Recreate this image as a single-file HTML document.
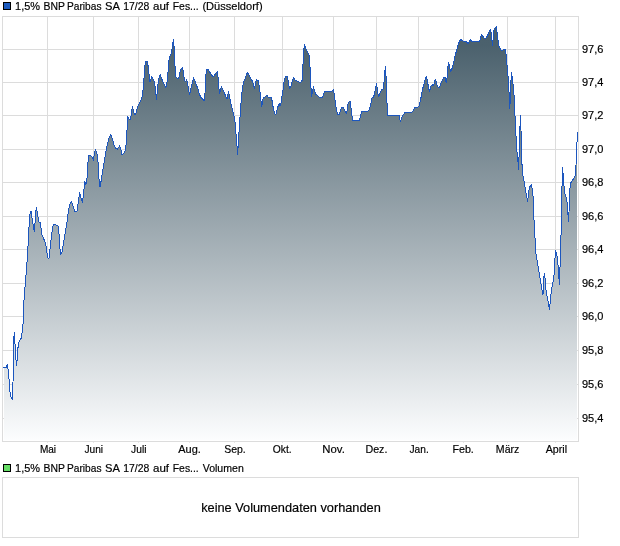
<!DOCTYPE html>
<html><head><meta charset="utf-8"><title>Chart</title>
<style>
html,body{margin:0;padding:0;background:#fff}
svg{display:block}
text{font-family:"Liberation Sans",Arial,sans-serif;fill:#000;stroke:#000;stroke-width:0.18px}
</style></head>
<body>
<svg width="620" height="546" viewBox="0 0 620 546">
<defs><linearGradient id="g" gradientUnits="userSpaceOnUse" x1="0" y1="17" x2="0" y2="440"><stop offset="0.0000" stop-color="rgb(72,95,107)"/><stop offset="0.0662" stop-color="rgb(75,97,109)"/><stop offset="1.0000" stop-color="rgb(252,253,254)"/></linearGradient>
<clipPath id="c"><rect x="4" y="17" width="573" height="423"/></clipPath></defs>
<rect width="620" height="546" fill="#fff"/>
<g stroke="#dcdcdc" stroke-width="1" shape-rendering="crispEdges">
<line x1="47.5" y1="17" x2="47.5" y2="440"/>
<line x1="93.5" y1="17" x2="93.5" y2="440"/>
<line x1="138.5" y1="17" x2="138.5" y2="440"/>
<line x1="189.5" y1="17" x2="189.5" y2="440"/>
<line x1="234.5" y1="17" x2="234.5" y2="440"/>
<line x1="282.5" y1="17" x2="282.5" y2="440"/>
<line x1="333.5" y1="17" x2="333.5" y2="440"/>
<line x1="376.5" y1="17" x2="376.5" y2="440"/>
<line x1="418.5" y1="17" x2="418.5" y2="440"/>
<line x1="463.5" y1="17" x2="463.5" y2="440"/>
<line x1="507.5" y1="17" x2="507.5" y2="440"/>
<line x1="555.5" y1="17" x2="555.5" y2="440"/>
<line x1="3" y1="49.5" x2="578" y2="49.5"/>
<line x1="3" y1="82.5" x2="578" y2="82.5"/>
<line x1="3" y1="115.5" x2="578" y2="115.5"/>
<line x1="3" y1="149.5" x2="578" y2="149.5"/>
<line x1="3" y1="182.5" x2="578" y2="182.5"/>
<line x1="3" y1="216.5" x2="578" y2="216.5"/>
<line x1="3" y1="249.5" x2="578" y2="249.5"/>
<line x1="3" y1="283.5" x2="578" y2="283.5"/>
<line x1="3" y1="316.5" x2="578" y2="316.5"/>
<line x1="3" y1="350.5" x2="578" y2="350.5"/>
<line x1="3" y1="384.5" x2="578" y2="384.5"/>
<line x1="3" y1="418.5" x2="578" y2="418.5"/>
</g>
<path d="M3.0,367.4 L6.5,367.4 L7.2,364.5 L8.5,372.0 L10.0,392.0 L11.0,397.0 L12.6,399.6 L13.0,383.0 L13.4,350.0 L14.2,332.5 L15.0,344.0 L16.4,365.6 L17.2,359.0 L18.0,347.6 L19.0,342.0 L21.0,338.6 L22.4,331.0 L23.4,320.0 L23.7,304.6 L24.5,294.0 L25.5,281.0 L26.5,269.0 L27.5,256.0 L28.5,236.0 L29.5,218.0 L30.2,212.0 L31.0,211.0 L32.0,218.0 L33.4,226.0 L34.4,232.0 L35.6,214.0 L36.4,207.2 L37.6,215.0 L39.0,222.0 L40.4,223.0 L42.0,235.0 L43.4,238.0 L45.0,242.0 L46.4,248.0 L47.6,258.0 L49.2,258.0 L50.4,245.0 L52.0,232.0 L53.0,226.0 L54.0,224.4 L56.0,225.0 L58.0,226.0 L59.0,234.0 L60.4,254.4 L62.0,252.0 L63.4,244.0 L64.6,236.0 L66.0,228.0 L67.4,220.0 L68.4,211.0 L69.6,205.0 L71.4,201.4 L73.0,206.0 L75.0,212.0 L77.0,211.0 L78.0,204.0 L79.6,192.6 L81.0,198.0 L82.6,202.0 L83.9,190.0 L84.7,181.0 L85.9,185.0 L86.9,180.0 L87.7,164.0 L88.9,155.0 L90.5,155.0 L91.9,157.0 L93.5,160.0 L94.5,152.0 L95.5,149.6 L97.1,154.0 L98.1,163.0 L99.1,180.0 L100.1,187.0 L101.1,181.0 L102.9,170.0 L104.5,160.0 L105.9,152.0 L107.5,144.0 L109.1,138.0 L110.9,134.6 L112.5,139.0 L114.1,145.0 L115.5,148.0 L117.5,149.0 L119.5,146.0 L120.7,149.0 L122.1,155.0 L124.1,153.0 L125.5,150.0 L126.5,140.0 L127.3,124.0 L127.4,116.0 L129.0,119.0 L130.4,120.0 L131.4,113.0 L132.4,106.4 L133.4,110.0 L134.6,115.0 L136.0,113.0 L137.0,109.0 L138.4,105.0 L140.0,102.0 L141.6,99.0 L142.6,94.0 L143.6,84.0 L144.4,72.0 L145.4,61.4 L147.4,61.4 L148.4,68.0 L149.4,78.0 L150.0,82.0 L151.6,76.6 L153.0,79.0 L154.4,82.0 L155.6,90.0 L156.4,99.6 L157.4,90.0 L158.4,80.0 L160.2,74.6 L161.4,78.0 L163.0,82.0 L164.4,85.0 L165.8,87.6 L167.0,82.0 L168.0,72.0 L169.0,60.0 L170.0,56.0 L171.4,53.0 L172.4,47.0 L173.4,39.4 L174.4,50.0 L175.0,66.0 L176.0,77.0 L178.0,79.0 L179.4,76.0 L180.4,70.0 L182.4,67.4 L183.4,72.0 L184.4,80.0 L185.6,82.0 L186.4,79.6 L187.6,83.0 L188.6,90.0 L189.6,94.6 L191.0,88.0 L192.4,82.0 L193.6,77.6 L195.0,81.0 L196.4,85.0 L198.0,89.0 L199.4,94.0 L200.6,97.0 L202.4,99.0 L204.4,101.0 L205.0,93.0 L205.6,77.0 L206.6,69.4 L208.4,69.4 L209.6,72.0 L211.0,74.0 L213.0,77.0 L214.6,75.0 L216.0,73.0 L217.4,71.4 L218.4,80.0 L219.4,94.0 L220.4,90.0 L221.6,86.6 L222.6,89.0 L224.0,92.0 L225.6,96.0 L227.0,99.0 L228.4,91.6 L229.4,96.0 L231.0,104.0 L232.6,110.0 L234.0,116.0 L235.0,122.0 L236.0,134.0 L237.0,146.0 L237.6,155.0 L238.4,142.0 L239.4,126.0 L240.4,112.0 L241.4,98.0 L242.4,88.0 L243.6,82.0 L245.0,79.0 L246.0,76.0 L247.4,72.6 L249.0,75.0 L250.4,78.0 L252.4,81.0 L253.6,85.0 L254.4,89.0 L255.6,83.0 L256.4,79.6 L258.4,81.0 L259.4,88.0 L260.4,95.0 L261.6,107.0 L262.4,103.0 L263.4,97.0 L265.4,97.0 L267.0,95.0 L268.6,98.0 L270.0,97.6 L271.6,98.0 L272.6,104.0 L273.6,110.0 L274.8,114.0 L276.2,114.0 L277.4,108.0 L278.6,105.0 L279.6,104.0 L280.0,106.0 L281.0,103.0 L282.0,96.0 L283.0,90.0 L284.0,82.0 L285.4,76.4 L287.4,76.4 L288.4,82.0 L289.6,89.0 L291.0,86.0 L292.0,82.0 L293.4,77.6 L295.0,80.0 L297.0,81.0 L299.0,82.0 L301.0,82.0 L302.4,80.0 L302.6,72.0 L303.5,54.0 L304.4,44.0 L305.5,48.0 L306.5,50.0 L307.5,52.0 L308.5,54.0 L309.5,56.0 L310.0,67.0 L310.4,78.0 L311.0,88.0 L311.6,97.0 L312.4,92.0 L313.4,86.6 L314.4,90.0 L315.6,94.0 L317.0,95.0 L318.4,96.6 L320.0,97.6 L322.4,97.6 L323.6,94.0 L324.6,91.6 L327.0,91.6 L329.0,91.6 L331.6,91.6 L333.4,89.6 L334.4,95.0 L335.4,103.0 L336.6,110.0 L337.8,115.0 L339.4,114.0 L340.4,110.0 L341.6,107.4 L343.4,107.4 L344.6,110.0 L346.0,113.0 L346.8,114.0 L347.4,106.0 L348.4,103.0 L349.6,101.4 L350.4,101.6 L351.0,108.0 L352.0,116.0 L352.6,120.4 L359.4,120.4 L360.4,117.0 L361.6,111.2 L368.0,111.2 L369.6,109.0 L370.6,105.0 L372.0,98.0 L373.4,97.0 L374.6,94.0 L375.4,88.0 L376.4,84.0 L377.2,88.0 L378.4,97.0 L379.6,94.0 L381.0,91.0 L382.0,89.6 L383.0,89.0 L384.0,82.0 L384.8,72.0 L385.4,66.4 L386.0,76.0 L386.4,80.0 L387.0,103.0 L387.6,115.4 L399.0,115.4 L400.4,122.0 L401.6,118.0 L403.0,115.0 L405.0,112.6 L411.6,112.6 L413.0,111.0 L414.6,108.0 L416.0,107.4 L418.0,107.4 L419.4,105.0 L420.6,100.0 L421.6,94.0 L422.6,89.0 L424.0,84.0 L425.0,80.0 L426.4,76.6 L427.6,82.0 L428.6,88.0 L429.6,91.6 L431.0,86.0 L432.6,85.0 L433.6,86.0 L434.4,82.0 L435.4,79.6 L436.6,83.0 L437.6,87.0 L439.4,87.6 L440.6,84.0 L442.0,81.0 L443.6,78.0 L445.0,77.4 L446.2,82.6 L447.0,78.0 L447.6,70.0 L448.4,62.4 L449.6,66.0 L450.4,72.0 L451.6,70.0 L453.0,65.0 L454.4,59.0 L455.6,54.0 L457.0,49.0 L458.4,44.0 L459.6,41.0 L461.0,39.6 L462.6,41.0 L464.0,41.6 L466.0,41.6 L467.4,43.0 L468.4,44.0 L469.4,41.0 L470.2,39.2 L471.4,41.0 L473.0,41.4 L479.6,41.4 L480.6,38.0 L481.4,34.6 L482.6,36.0 L484.0,38.0 L486.0,38.0 L487.4,36.0 L488.6,33.0 L489.6,31.0 L490.6,29.6 L491.4,34.0 L492.4,46.0 L493.2,38.0 L494.0,30.0 L495.0,28.0 L496.4,26.4 L497.2,34.0 L498.0,40.0 L499.0,46.0 L500.4,49.0 L501.6,51.0 L502.6,50.0 L504.0,49.6 L505.4,49.6 L506.4,56.0 L507.2,68.0 L508.0,76.0 L508.8,88.0 L509.4,100.0 L509.8,109.0 L510.4,96.0 L511.0,80.0 L511.4,72.4 L512.4,78.0 L513.4,88.0 L514.4,100.0 L515.0,116.0 L516.0,136.0 L517.0,152.0 L518.0,162.0 L518.6,170.0 L519.4,145.0 L520.4,115.0 L521.0,130.0 L521.6,158.0 L522.6,174.0 L524.0,181.0 L525.0,187.0 L526.4,195.0 L527.6,201.6 L528.6,192.0 L529.6,187.0 L531.4,184.6 L532.4,190.0 L533.2,198.0 L533.6,214.0 L534.4,225.0 L535.0,238.0 L535.6,252.0 L537.0,260.0 L538.4,268.0 L540.0,278.0 L541.4,286.0 L542.4,292.0 L543.0,295.0 L543.4,285.0 L544.2,273.0 L545.0,278.0 L546.0,290.0 L547.0,296.0 L548.4,303.0 L549.4,310.0 L550.4,300.0 L551.4,290.0 L553.0,282.0 L554.4,272.0 L555.0,258.0 L555.6,250.0 L556.6,254.0 L557.4,258.0 L558.4,270.0 L559.4,285.0 L559.8,268.0 L560.4,264.0 L561.2,226.0 L562.0,187.0 L562.4,167.4 L563.2,175.0 L564.0,186.0 L565.0,194.0 L566.4,198.0 L567.4,204.0 L568.4,221.6 L569.0,212.0 L569.6,192.0 L570.6,183.0 L572.0,181.0 L573.4,179.0 L575.0,176.0 L576.0,165.0 L576.6,150.0 L577.0,142.0 L577.6,132.4 L577.6,440 L3.0,440 Z" fill="url(#g)" clip-path="url(#c)"/>
<path d="M3.0,367.4 L6.5,367.4 L7.2,364.5 L8.5,372.0 L10.0,392.0 L11.0,397.0 L12.6,399.6 L13.0,383.0 L13.4,350.0 L14.2,332.5 L15.0,344.0 L16.4,365.6 L17.2,359.0 L18.0,347.6 L19.0,342.0 L21.0,338.6 L22.4,331.0 L23.4,320.0 L23.7,304.6 L24.5,294.0 L25.5,281.0 L26.5,269.0 L27.5,256.0 L28.5,236.0 L29.5,218.0 L30.2,212.0 L31.0,211.0 L32.0,218.0 L33.4,226.0 L34.4,232.0 L35.6,214.0 L36.4,207.2 L37.6,215.0 L39.0,222.0 L40.4,223.0 L42.0,235.0 L43.4,238.0 L45.0,242.0 L46.4,248.0 L47.6,258.0 L49.2,258.0 L50.4,245.0 L52.0,232.0 L53.0,226.0 L54.0,224.4 L56.0,225.0 L58.0,226.0 L59.0,234.0 L60.4,254.4 L62.0,252.0 L63.4,244.0 L64.6,236.0 L66.0,228.0 L67.4,220.0 L68.4,211.0 L69.6,205.0 L71.4,201.4 L73.0,206.0 L75.0,212.0 L77.0,211.0 L78.0,204.0 L79.6,192.6 L81.0,198.0 L82.6,202.0 L83.9,190.0 L84.7,181.0 L85.9,185.0 L86.9,180.0 L87.7,164.0 L88.9,155.0 L90.5,155.0 L91.9,157.0 L93.5,160.0 L94.5,152.0 L95.5,149.6 L97.1,154.0 L98.1,163.0 L99.1,180.0 L100.1,187.0 L101.1,181.0 L102.9,170.0 L104.5,160.0 L105.9,152.0 L107.5,144.0 L109.1,138.0 L110.9,134.6 L112.5,139.0 L114.1,145.0 L115.5,148.0 L117.5,149.0 L119.5,146.0 L120.7,149.0 L122.1,155.0 L124.1,153.0 L125.5,150.0 L126.5,140.0 L127.3,124.0 L127.4,116.0 L129.0,119.0 L130.4,120.0 L131.4,113.0 L132.4,106.4 L133.4,110.0 L134.6,115.0 L136.0,113.0 L137.0,109.0 L138.4,105.0 L140.0,102.0 L141.6,99.0 L142.6,94.0 L143.6,84.0 L144.4,72.0 L145.4,61.4 L147.4,61.4 L148.4,68.0 L149.4,78.0 L150.0,82.0 L151.6,76.6 L153.0,79.0 L154.4,82.0 L155.6,90.0 L156.4,99.6 L157.4,90.0 L158.4,80.0 L160.2,74.6 L161.4,78.0 L163.0,82.0 L164.4,85.0 L165.8,87.6 L167.0,82.0 L168.0,72.0 L169.0,60.0 L170.0,56.0 L171.4,53.0 L172.4,47.0 L173.4,39.4 L174.4,50.0 L175.0,66.0 L176.0,77.0 L178.0,79.0 L179.4,76.0 L180.4,70.0 L182.4,67.4 L183.4,72.0 L184.4,80.0 L185.6,82.0 L186.4,79.6 L187.6,83.0 L188.6,90.0 L189.6,94.6 L191.0,88.0 L192.4,82.0 L193.6,77.6 L195.0,81.0 L196.4,85.0 L198.0,89.0 L199.4,94.0 L200.6,97.0 L202.4,99.0 L204.4,101.0 L205.0,93.0 L205.6,77.0 L206.6,69.4 L208.4,69.4 L209.6,72.0 L211.0,74.0 L213.0,77.0 L214.6,75.0 L216.0,73.0 L217.4,71.4 L218.4,80.0 L219.4,94.0 L220.4,90.0 L221.6,86.6 L222.6,89.0 L224.0,92.0 L225.6,96.0 L227.0,99.0 L228.4,91.6 L229.4,96.0 L231.0,104.0 L232.6,110.0 L234.0,116.0 L235.0,122.0 L236.0,134.0 L237.0,146.0 L237.6,155.0 L238.4,142.0 L239.4,126.0 L240.4,112.0 L241.4,98.0 L242.4,88.0 L243.6,82.0 L245.0,79.0 L246.0,76.0 L247.4,72.6 L249.0,75.0 L250.4,78.0 L252.4,81.0 L253.6,85.0 L254.4,89.0 L255.6,83.0 L256.4,79.6 L258.4,81.0 L259.4,88.0 L260.4,95.0 L261.6,107.0 L262.4,103.0 L263.4,97.0 L265.4,97.0 L267.0,95.0 L268.6,98.0 L270.0,97.6 L271.6,98.0 L272.6,104.0 L273.6,110.0 L274.8,114.0 L276.2,114.0 L277.4,108.0 L278.6,105.0 L279.6,104.0 L280.0,106.0 L281.0,103.0 L282.0,96.0 L283.0,90.0 L284.0,82.0 L285.4,76.4 L287.4,76.4 L288.4,82.0 L289.6,89.0 L291.0,86.0 L292.0,82.0 L293.4,77.6 L295.0,80.0 L297.0,81.0 L299.0,82.0 L301.0,82.0 L302.4,80.0 L302.6,72.0 L303.5,54.0 L304.4,44.0 L305.5,48.0 L306.5,50.0 L307.5,52.0 L308.5,54.0 L309.5,56.0 L310.0,67.0 L310.4,78.0 L311.0,88.0 L311.6,97.0 L312.4,92.0 L313.4,86.6 L314.4,90.0 L315.6,94.0 L317.0,95.0 L318.4,96.6 L320.0,97.6 L322.4,97.6 L323.6,94.0 L324.6,91.6 L327.0,91.6 L329.0,91.6 L331.6,91.6 L333.4,89.6 L334.4,95.0 L335.4,103.0 L336.6,110.0 L337.8,115.0 L339.4,114.0 L340.4,110.0 L341.6,107.4 L343.4,107.4 L344.6,110.0 L346.0,113.0 L346.8,114.0 L347.4,106.0 L348.4,103.0 L349.6,101.4 L350.4,101.6 L351.0,108.0 L352.0,116.0 L352.6,120.4 L359.4,120.4 L360.4,117.0 L361.6,111.2 L368.0,111.2 L369.6,109.0 L370.6,105.0 L372.0,98.0 L373.4,97.0 L374.6,94.0 L375.4,88.0 L376.4,84.0 L377.2,88.0 L378.4,97.0 L379.6,94.0 L381.0,91.0 L382.0,89.6 L383.0,89.0 L384.0,82.0 L384.8,72.0 L385.4,66.4 L386.0,76.0 L386.4,80.0 L387.0,103.0 L387.6,115.4 L399.0,115.4 L400.4,122.0 L401.6,118.0 L403.0,115.0 L405.0,112.6 L411.6,112.6 L413.0,111.0 L414.6,108.0 L416.0,107.4 L418.0,107.4 L419.4,105.0 L420.6,100.0 L421.6,94.0 L422.6,89.0 L424.0,84.0 L425.0,80.0 L426.4,76.6 L427.6,82.0 L428.6,88.0 L429.6,91.6 L431.0,86.0 L432.6,85.0 L433.6,86.0 L434.4,82.0 L435.4,79.6 L436.6,83.0 L437.6,87.0 L439.4,87.6 L440.6,84.0 L442.0,81.0 L443.6,78.0 L445.0,77.4 L446.2,82.6 L447.0,78.0 L447.6,70.0 L448.4,62.4 L449.6,66.0 L450.4,72.0 L451.6,70.0 L453.0,65.0 L454.4,59.0 L455.6,54.0 L457.0,49.0 L458.4,44.0 L459.6,41.0 L461.0,39.6 L462.6,41.0 L464.0,41.6 L466.0,41.6 L467.4,43.0 L468.4,44.0 L469.4,41.0 L470.2,39.2 L471.4,41.0 L473.0,41.4 L479.6,41.4 L480.6,38.0 L481.4,34.6 L482.6,36.0 L484.0,38.0 L486.0,38.0 L487.4,36.0 L488.6,33.0 L489.6,31.0 L490.6,29.6 L491.4,34.0 L492.4,46.0 L493.2,38.0 L494.0,30.0 L495.0,28.0 L496.4,26.4 L497.2,34.0 L498.0,40.0 L499.0,46.0 L500.4,49.0 L501.6,51.0 L502.6,50.0 L504.0,49.6 L505.4,49.6 L506.4,56.0 L507.2,68.0 L508.0,76.0 L508.8,88.0 L509.4,100.0 L509.8,109.0 L510.4,96.0 L511.0,80.0 L511.4,72.4 L512.4,78.0 L513.4,88.0 L514.4,100.0 L515.0,116.0 L516.0,136.0 L517.0,152.0 L518.0,162.0 L518.6,170.0 L519.4,145.0 L520.4,115.0 L521.0,130.0 L521.6,158.0 L522.6,174.0 L524.0,181.0 L525.0,187.0 L526.4,195.0 L527.6,201.6 L528.6,192.0 L529.6,187.0 L531.4,184.6 L532.4,190.0 L533.2,198.0 L533.6,214.0 L534.4,225.0 L535.0,238.0 L535.6,252.0 L537.0,260.0 L538.4,268.0 L540.0,278.0 L541.4,286.0 L542.4,292.0 L543.0,295.0 L543.4,285.0 L544.2,273.0 L545.0,278.0 L546.0,290.0 L547.0,296.0 L548.4,303.0 L549.4,310.0 L550.4,300.0 L551.4,290.0 L553.0,282.0 L554.4,272.0 L555.0,258.0 L555.6,250.0 L556.6,254.0 L557.4,258.0 L558.4,270.0 L559.4,285.0 L559.8,268.0 L560.4,264.0 L561.2,226.0 L562.0,187.0 L562.4,167.4 L563.2,175.0 L564.0,186.0 L565.0,194.0 L566.4,198.0 L567.4,204.0 L568.4,221.6 L569.0,212.0 L569.6,192.0 L570.6,183.0 L572.0,181.0 L573.4,179.0 L575.0,176.0 L576.0,165.0 L576.6,150.0 L577.0,142.0 L577.6,132.4" fill="none" stroke="#1c56be" stroke-width="1" stroke-linejoin="round" shape-rendering="crispEdges"/>
<g fill="none" stroke="#dcdcdc" shape-rendering="crispEdges">
<rect x="2.5" y="16.5" width="576" height="425"/>
<rect x="2.5" y="477.5" width="576" height="60"/>
</g>
<g stroke="#e8e8e8" shape-rendering="crispEdges">
<line x1="47.5" y1="442" x2="47.5" y2="443"/>
<line x1="93.5" y1="442" x2="93.5" y2="443"/>
<line x1="138.5" y1="442" x2="138.5" y2="443"/>
<line x1="189.5" y1="442" x2="189.5" y2="443"/>
<line x1="234.5" y1="442" x2="234.5" y2="443"/>
<line x1="282.5" y1="442" x2="282.5" y2="443"/>
<line x1="333.5" y1="442" x2="333.5" y2="443"/>
<line x1="376.5" y1="442" x2="376.5" y2="443"/>
<line x1="418.5" y1="442" x2="418.5" y2="443"/>
<line x1="463.5" y1="442" x2="463.5" y2="443"/>
<line x1="507.5" y1="442" x2="507.5" y2="443"/>
<line x1="555.5" y1="442" x2="555.5" y2="443"/>
</g>
<rect x="3.5" y="2.5" width="7" height="7" fill="#1d5bbf" stroke="#000" shape-rendering="crispEdges"/>
<rect x="3.5" y="464.5" width="7" height="7" fill="#66dd66" stroke="#000" shape-rendering="crispEdges"/>
<text y="10" font-size="11"><tspan x="15.1" textLength="24.98" lengthAdjust="spacingAndGlyphs">1,5%</tspan> <tspan x="43.46" textLength="21.23" lengthAdjust="spacingAndGlyphs">BNP</tspan> <tspan x="67.07" textLength="34.4" lengthAdjust="spacingAndGlyphs">Paribas</tspan> <tspan x="105.01" textLength="14.27" lengthAdjust="spacingAndGlyphs">SA</tspan> <tspan x="123.24" textLength="26.06" lengthAdjust="spacingAndGlyphs">17/28</tspan> <tspan x="152.98" textLength="16.02" lengthAdjust="spacingAndGlyphs">auf</tspan> <tspan x="172.75" textLength="26.01" lengthAdjust="spacingAndGlyphs">Fes...</tspan> <tspan x="202.4" textLength="60.22" lengthAdjust="spacingAndGlyphs">(Düsseldorf)</tspan></text>
<text y="472" font-size="11"><tspan x="15.1" textLength="24.98" lengthAdjust="spacingAndGlyphs">1,5%</tspan> <tspan x="43.46" textLength="21.23" lengthAdjust="spacingAndGlyphs">BNP</tspan> <tspan x="67.07" textLength="34.4" lengthAdjust="spacingAndGlyphs">Paribas</tspan> <tspan x="105.01" textLength="14.27" lengthAdjust="spacingAndGlyphs">SA</tspan> <tspan x="123.24" textLength="26.06" lengthAdjust="spacingAndGlyphs">17/28</tspan> <tspan x="152.98" textLength="16.02" lengthAdjust="spacingAndGlyphs">auf</tspan> <tspan x="172.75" textLength="26.01" lengthAdjust="spacingAndGlyphs">Fes...</tspan> <tspan x="202.7" textLength="41.08" lengthAdjust="spacingAndGlyphs">Volumen</tspan></text>
<text x="39.88" y="453" font-size="11" textLength="16.19" lengthAdjust="spacingAndGlyphs">Mai</text>
<text x="84.52" y="453" font-size="11" textLength="18.61" lengthAdjust="spacingAndGlyphs">Juni</text>
<text x="131.11" y="453" font-size="11" textLength="15.36" lengthAdjust="spacingAndGlyphs">Juli</text>
<text x="178.3" y="453" font-size="11" textLength="22.54" lengthAdjust="spacingAndGlyphs">Aug.</text>
<text x="224.22" y="453" font-size="11" textLength="21.57" lengthAdjust="spacingAndGlyphs">Sep.</text>
<text x="272.83" y="453" font-size="11" textLength="18.88" lengthAdjust="spacingAndGlyphs">Okt.</text>
<text x="322.37" y="453" font-size="11" textLength="22.47" lengthAdjust="spacingAndGlyphs">Nov.</text>
<text x="365.43" y="453" font-size="11" textLength="21.96" lengthAdjust="spacingAndGlyphs">Dez.</text>
<text x="409.52" y="453" font-size="11" textLength="19.21" lengthAdjust="spacingAndGlyphs">Jan.</text>
<text x="452.43" y="453" font-size="11" textLength="21.36" lengthAdjust="spacingAndGlyphs">Feb.</text>
<text x="495.84" y="453" font-size="11" textLength="23.49" lengthAdjust="spacingAndGlyphs">März</text>
<text x="545.7" y="453" font-size="11" textLength="21.4" lengthAdjust="spacingAndGlyphs">April</text>
<text x="582" y="52.5" font-size="11">97,6</text>
<text x="582" y="85.5" font-size="11">97,4</text>
<text x="582" y="118.5" font-size="11">97,2</text>
<text x="582" y="152.5" font-size="11">97,0</text>
<text x="582" y="185.5" font-size="11">96,8</text>
<text x="582" y="219.5" font-size="11">96,6</text>
<text x="582" y="252.5" font-size="11">96,4</text>
<text x="582" y="286.5" font-size="11">96,2</text>
<text x="582" y="319.5" font-size="11">96,0</text>
<text x="582" y="353.5" font-size="11">95,8</text>
<text x="582" y="387.5" font-size="11">95,6</text>
<text x="582" y="421.5" font-size="11">95,4</text>
<text x="201.2" y="512" font-size="13" textLength="179.6" lengthAdjust="spacingAndGlyphs">keine Volumendaten vorhanden</text>
</svg>
</body></html>
